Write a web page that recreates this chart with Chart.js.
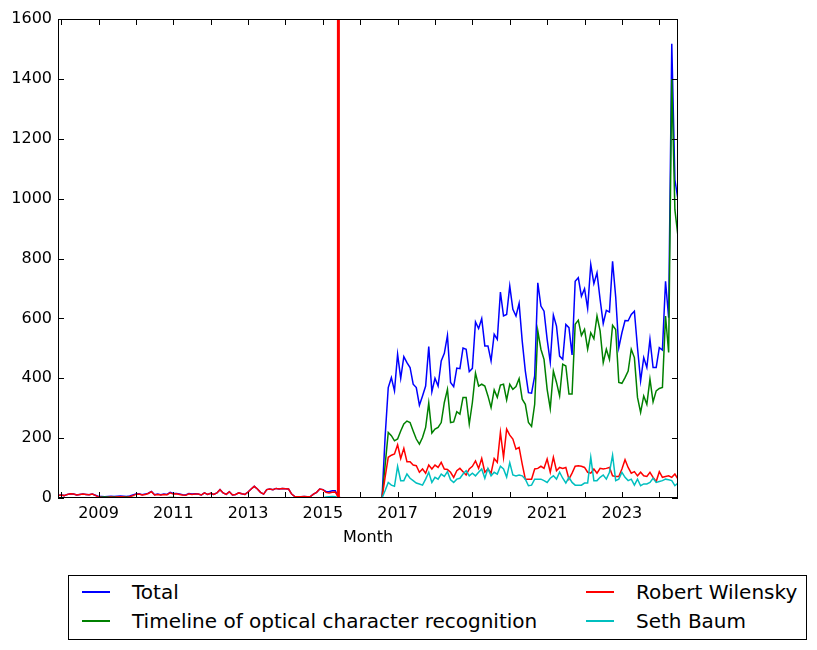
<!DOCTYPE html>
<html>
<head>
<meta charset="utf-8">
<script src="https://cdn.jsdelivr.net/npm/chart.js@4.4.1/dist/chart.umd.min.js"></script>
<style>
  body { margin: 0; background: #fff; }
  #wrap { position: relative; width: 817px; height: 650px; font-family: "DejaVu Sans", sans-serif; }
  #legend { position: absolute; left: 68px; top: 575px; width: 737px; height: 63px; border: 1px solid #000; background: #fff; }
  .swatch { position: absolute; width: 28px; height: 2px; }
  .label { position: absolute; font-size: 20px; line-height: 24px; height: 24px; white-space: nowrap; color: #000; }
</style>
</head>
<body>
<div id="wrap">
  <canvas id="myChart" width="817" height="650"></canvas>
  <div id="legend"></div>
</div>
<script>
// monthly pageviews, Dec 2007 .. Jul 2024
const seriesNames = ["Total", "Timeline of optical character recognition", "Robert Wilensky", "Seth Baum"];
const seriesColors = ["#0000ff", "#008000", "#ff0000", "#00bfbf"];

const totalViews = [
  8, 10, 8, 12, 14, 13, 10, 12, 13, 12, 11, 13, 9,
  5, 5, 4, 5, 6, 5, 6, 7, 6, 5, 7, 10,
  13, 14, 11, 13, 16, 22, 11, 13, 11, 13, 12, 19,
  15, 15, 13, 11, 10, 15, 13, 14,
  13, 10, 17, 12, 16, 12, 17, 28, 17, 12, 21, 10, 12, 17, 14, 12, 20, 30, 39, 30,
  19, 13, 28, 30, 28, 32, 30, 32, 31, 30, 13, 5, 4, 4, 5, 4, 5, 13, 19, 30,
  28, 22, 21, 24, 24, 3,
  0, 0, 0, 0, 0, 0, 0, 0, 0, 0, 0, 0, 0, 0,
  205,
  369, 402, 358, 480, 400, 472, 452, 436, 380, 369,
  310, 341, 374, 506, 355, 400, 374, 458, 483, 543,
  386, 372, 434, 432, 501, 497, 422, 433, 588, 566,
  599, 508, 508, 458, 547, 530, 688, 608, 613, 708,
  630, 608, 650, 524, 424, 352, 350, 408, 719, 641,
  624, 530, 454, 611, 574, 474, 463, 580, 569, 478,
  724, 736, 674, 699, 633, 780, 716, 752, 663, 583,
  627, 621, 791, 672, 502, 552, 593, 592, 613, 624,
  502, 391, 469, 436, 530, 436, 436, 502, 494, 724,
  602, 1517, 1063, 997
];

const ocrViews = [
  0, 0, 0, 0, 0, 0, 0, 0, 0, 0, 0, 0, 0,
  2, 3, 3, 3, 3, 3, 3, 3, 3, 3, 3, 2,
  1, 1, 1, 1, 1, 1, 1, 1, 1, 1, 1, 2,
  2, 1, 1, 1, 1, 1, 1, 1,
  0, 0, 0, 0, 0, 0, 0, 0, 0, 0, 0, 0, 0, 0, 0, 0, 0, 0, 0, 0,
  0, 0, 0, 0, 0, 0, 0, 0, 0, 0, 0, 0, 0, 0, 0, 0, 0, 0, 0, 0,
  0, 0, 0, 0, 0, 0,
  0, 0, 0, 0, 0, 0, 0, 0, 0, 0, 0, 0, 0, 0,
  110,
  219, 208, 191, 197, 224, 247, 257, 252, 224, 197,
  180, 202, 236, 317, 217, 230, 236, 252, 319, 363,
  252, 254, 288, 280, 336, 336, 247, 319, 417, 374,
  380, 374, 341, 302, 361, 336, 377, 380, 328, 380,
  363, 372, 399, 330, 313, 252, 239, 313, 558, 497,
  463, 363, 299, 424, 386, 341, 447, 441, 347, 347,
  580, 594, 543, 563, 497, 552, 532, 608, 558, 452,
  497, 463, 577, 563, 386, 383, 402, 424, 497, 469,
  336, 286, 341, 313, 397, 321, 358, 366, 369, 608,
  486, 1399, 963, 874
];

const wilenskyViews = [
  8, 10, 8, 12, 14, 13, 10, 12, 13, 12, 11, 13, 9,
  3, 2, 1, 2, 3, 2, 3, 4, 3, 2, 4, 8,
  12, 13, 10, 12, 15, 21, 10, 12, 10, 12, 11, 17,
  13, 14, 12, 10, 9, 14, 12, 13,
  13, 10, 17, 12, 16, 12, 17, 28, 17, 12, 21, 10, 12, 17, 14, 12, 20, 30, 39, 30,
  19, 13, 28, 30, 28, 32, 30, 32, 31, 30, 13, 5, 4, 4, 5, 4, 5, 13, 19, 30,
  28, 19, 17, 19, 20, 3,
  0, 0, 0, 0, 0, 0, 0, 0, 0, 0, 0, 0, 0, 0,
  70,
  136, 143, 147, 178, 132, 166, 121, 121, 110, 108,
  86, 97, 83, 110, 97, 110, 102, 119, 97, 95,
  86, 69, 91, 99, 88, 77, 97, 106, 124, 99,
  132, 86, 97, 83, 132, 119, 219, 136, 230, 210,
  197, 163, 169, 113, 63, 63, 63, 97, 99, 106,
  99, 130, 86, 136, 91, 102, 99, 102, 63, 83,
  106, 108, 106, 102, 86, 83, 97, 83, 99, 97,
  99, 102, 74, 72, 72, 97, 128, 102, 83, 88,
  74, 86, 74, 72, 86, 69, 55, 88, 69, 72,
  74, 69, 80, 63
];

const baumViews = [
  0, 0, 0, 0, 0, 0, 0, 0, 0, 0, 0, 0, 0,
  0, 0, 0, 0, 0, 0, 0, 0, 0, 0, 0, 0,
  0, 0, 0, 0, 0, 0, 0, 0, 0, 0, 0, 0,
  0, 0, 0, 0, 0, 0, 0, 0,
  0, 0, 0, 0, 0, 0, 0, 0, 0, 0, 0, 0, 0, 0, 0, 0, 0, 0, 0, 0,
  0, 0, 0, 0, 0, 0, 0, 0, 0, 0, 0, 0, 0, 0, 0, 0, 0, 0, 0, 0,
  0, 3, 4, 5, 4, 0,
  0, 0, 0, 0, 0, 0, 0, 0, 0, 0, 0, 0, 0, 0,
  25,
  52, 43, 39, 106, 58, 58, 80, 66, 58, 50,
  47, 43, 63, 86, 52, 69, 63, 80, 72, 88,
  61, 52, 63, 66, 80, 91, 74, 83, 74, 86,
  97, 66, 99, 74, 86, 80, 106, 97, 70, 118,
  77, 74, 77, 74, 63, 41, 43, 63, 63, 63,
  58, 52, 66, 74, 63, 86, 66, 50, 69, 52,
  43, 43, 43, 50, 50, 136, 58, 58, 69, 77,
  63, 86, 143, 58, 63, 86, 69, 58, 63, 43,
  63, 41, 47, 47, 52, 66, 52, 55, 58, 63,
  61, 58, 41, 50
];

const firstMonth = [2007, 12];
const sourceSwitchMonth = "2015-06"; // red vertical marker
const yearTicks = [2008, 2009, 2010, 2011, 2012, 2013, 2014, 2015, 2016, 2017, 2018, 2019, 2020, 2021, 2022, 2023, 2024];
const yearLabels = [2009, 2011, 2013, 2015, 2017, 2019, 2021, 2023];
const yTicks = [0, 200, 400, 600, 800, 1000, 1200, 1400, 1600];

const months = totalViews.map((_, i) => {
  const k = firstMonth[1] - 1 + i;
  return (firstMonth[0] + Math.floor(k / 12)) + "-" + String(k % 12 + 1).padStart(2, "0");
});
const toYear = (s) => { const [y, m] = s.split("-").map(Number); return y + (m - 1) / 12; };
const xValues = months.map(toYear);

const allSeries = [totalViews, ocrViews, wilenskyViews, baumViews];

// frame, inward ticks (matplotlib look) and the vertical red line
const axesDecor = {
  id: "axesDecor",
  afterDatasetsDraw(chart) {
    const { ctx, chartArea: a, scales: { x, y } } = chart;
    ctx.save();
    const px = x.getPixelForValue(toYear(sourceSwitchMonth));
    ctx.strokeStyle = "#ff0000";
    ctx.lineWidth = 3;
    ctx.beginPath();
    ctx.moveTo(px, a.top);
    ctx.lineTo(px, a.bottom);
    ctx.stroke();

    ctx.strokeStyle = "#000";
    ctx.lineWidth = 1;
    ctx.strokeRect(Math.round(a.left) + 0.5, Math.round(a.top) + 0.5, Math.round(a.width) - 1, Math.round(a.height) - 1);
    const len = 6;
    ctx.beginPath();
    x.ticks.forEach(t => {
      const p = Math.round(x.getPixelForValue(t.value)) + 0.5;
      ctx.moveTo(p, a.bottom); ctx.lineTo(p, a.bottom - len);
      ctx.moveTo(p, a.top); ctx.lineTo(p, a.top + len);
    });
    y.ticks.forEach(t => {
      const p = Math.round(y.getPixelForValue(t.value)) + 0.5;
      ctx.moveTo(a.left, p); ctx.lineTo(a.left + len, p);
      ctx.moveTo(a.right, p); ctx.lineTo(a.right - len, p);
    });
    ctx.stroke();
    ctx.restore();
  }
};

const tickFont = { family: "DejaVu Sans", size: 16 };

new Chart(document.getElementById("myChart").getContext("2d"), {
  type: "line",
  data: {
    labels: xValues,
    datasets: allSeries.map((vals, i) => ({
      label: seriesNames[i],
      data: vals,
      borderColor: seriesColors[i],
      backgroundColor: seriesColors[i],
      borderWidth: 1.5,
      pointRadius: 0,
      tension: 0,
      fill: false,
      order: allSeries.length - i
    }))
  },
  options: {
    responsive: false,
    animation: false,
    events: [],
    layout: { padding: { left: 0, top: 19, right: 139, bottom: 102 } },
    plugins: { legend: { display: false }, tooltip: { enabled: false } },
    scales: {
      x: {
        type: "linear",
        min: xValues[0],
        max: xValues[xValues.length - 1],
        grid: { display: false, drawTicks: false },
        border: { display: false },
        afterBuildTicks: (scale) => { scale.ticks = yearTicks.map(v => ({ value: v })); },
        afterFit: (scale) => { scale.height = 50; },
        ticks: {
          autoSkip: false,
          maxRotation: 0,
          padding: 6,
          color: "#000",
          font: tickFont,
          callback: (v) => yearLabels.includes(v) ? String(v) : ""
        },
        title: { display: true, text: "Month", color: "#000", font: tickFont, padding: { top: 0, bottom: 1 } }
      },
      y: {
        min: yTicks[0],
        max: yTicks[yTicks.length - 1],
        grid: { display: false, drawTicks: false },
        border: { display: false },
        afterBuildTicks: (scale) => { scale.ticks = yTicks.map(v => ({ value: v })); },
        afterFit: (scale) => { scale.width = 58; },
        ticks: { padding: 6, color: "#000", font: tickFont, callback: (v) => String(v) }
      }
    }
  },
  plugins: [axesDecor]
});

// legend in two columns below the plot, like the matplotlib one
const legend = document.getElementById("legend");
const slots = [[13, 16], [13, 45], [517, 16], [517, 45]];
seriesNames.forEach((name, i) => {
  const [lx, cy] = slots[i];
  const sw = document.createElement("div");
  sw.className = "swatch";
  sw.style.left = lx + "px";
  sw.style.top = (cy - 1) + "px";
  sw.style.background = seriesColors[i];
  legend.appendChild(sw);
  const lb = document.createElement("div");
  lb.className = "label";
  lb.style.left = (lx + 50) + "px";
  lb.style.top = (cy - 12) + "px";
  lb.textContent = name;
  legend.appendChild(lb);
});
</script>
</body>
</html>
